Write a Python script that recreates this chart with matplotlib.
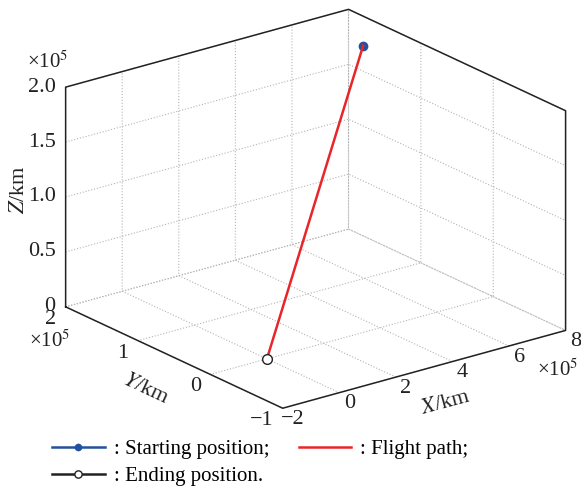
import numpy as np
import matplotlib
matplotlib.use('Agg')
import matplotlib.pyplot as plt
from mpl_toolkits.mplot3d import proj3d

plt.rcParams['font.family'] = 'Liberation Serif'
plt.rcParams['mathtext.fontset'] = 'stix'
plt.rcParams['grid.color'] = '#b4b4b4'
plt.rcParams['grid.linestyle'] = ':'
plt.rcParams['grid.linewidth'] = 0.8

# flight data (km)
path_x = [6.6e5, 0.0]
path_y = [1.25e5, 0.0]
path_z = [2.0e5, 0.0]

x_ticks = [-2, 0, 2, 4, 6, 8]
y_ticks = [-1, 0, 1, 2]
z_ticks = [0, 0.5, 1.0, 1.5, 2.0]
z_tick_labels = ['0', '0.5', '1.0', '1.5', '2.0']
scale = 1e5

xs = np.array(path_x) / scale
ys = np.array(path_y) / scale
zs = np.array(path_z) / scale

def fmt(v):
    return ('%g' % v).replace('-', '\u2212')

fig = plt.figure(figsize=(5.81, 4.88), dpi=100)
ax = fig.add_axes([0.033, 0.110, 1.0, 0.9], projection='3d')
ax.set_proj_type('ortho')
ax.view_init(elev=21, azim=-127.5)
ax.set_box_aspect((1, 1, 0.66), zoom=1.23)
ax.computed_zorder = False

xmin, xmax = x_ticks[0], x_ticks[-1]
ymin, ymax = y_ticks[0], y_ticks[-1]
zmin, zmax = z_ticks[0], z_ticks[-1]
ax.set_xlim(xmin, xmax)
ax.set_ylim(ymin, ymax)
ax.set_zlim(zmin, zmax)
ax.set_xticks(x_ticks)
ax.set_yticks(y_ticks)
ax.set_zticks(z_ticks)

for a in (ax.xaxis, ax.yaxis, ax.zaxis):
    a.set_pane_color((1, 1, 1, 0))
    a.pane.set_edgecolor('none')
    a.line.set_visible(False)
    a.set_tick_params(labelbottom=False, labeltop=False)
    a._axinfo['tick']['inward_factor'] = 0
    a._axinfo['tick']['outward_factor'] = 0

# box outline
bx = [xmin, xmin, xmax, xmax, xmax, xmin, xmin]
by = [ymax, ymax, ymax, ymin, ymin, ymin, ymax]
bz = [zmin, zmax, zmax, zmax, zmin, zmin, zmin]
ax.plot(bx, by, bz, color='#222222', lw=1.1, clip_on=False, zorder=2)

l_start, = ax.plot(xs[:1], ys[:1], zs[:1], '-o', color='#2251a0', ms=6, lw=1.8,
                   label=': Starting position;', clip_on=False, zorder=3)
l_path, = ax.plot(xs, ys, zs, color='#e8262a', lw=1.8, label=': Flight path;',
                  clip_on=False, zorder=4)
l_end, = ax.plot(xs[-1:], ys[-1:], zs[-1:], '-o', color='#222222', mfc='white', ms=7,
                 mew=1.0, lw=1.8, label=': Ending position.', clip_on=False, zorder=5)

# tick labels, MATLAB-like placement (projected to 2D once the view is set)
fig.canvas.draw()
M = ax.get_proj()

def label2d(x, y, z, s, ha):
    px, py, _ = proj3d.proj_transform(x, y, z, M)
    ax.text2D(px, py, s, transform=ax.transData, ha=ha, va='center',
              fontsize=16, color='#222222')

for v in x_ticks:
    label2d(v, ymin - 0.14, zmin - 0.058, fmt(v), 'center')
for v in y_ticks:
    label2d(xmin - 0.336, v, zmin - 0.09, fmt(v), 'right')
for v, s in zip(z_ticks, z_tick_labels):
    label2d(xmin - 0.222, ymax + 0.0514, v, s, 'right')

# axis labels
fig.text(445.5 / 581, 1 - 403.5 / 488, '$\\mathit{X}$/km', fontsize=16, color='#222222',
         rotation=15, ha='center', va='center', rotation_mode='anchor')
fig.text(146 / 581, 1 - 389 / 488, '$\\mathit{Y}$/km', fontsize=16, color='#222222',
         rotation=-25, ha='center', va='center', rotation_mode='anchor')
fig.text(19 / 581, 1 - 190 / 488, '$\\mathit{Z}$/km', fontsize=16, color='#222222',
         rotation=90, ha='center', va='center', rotation_mode='anchor')

# scale multipliers
mult = '×10$^5$'
fig.text(27 / 581, 1 - 68 / 488, mult, fontsize=15, color='#222222')
fig.text(29 / 581, 1 - 347 / 488, mult, fontsize=15, color='#222222')
fig.text(537 / 581, 1 - 376 / 488, mult, fontsize=15, color='#222222')

fig.legend(handles=[l_start, l_end, l_path], ncol=2, loc='lower left',
           bbox_to_anchor=(0.058, -0.035), frameon=False, fontsize=15,
           handlelength=2.5, handletextpad=0.45, columnspacing=1.4,
           labelspacing=0.35, markerscale=0.75)

fig.savefig('out.png', dpi=100)
